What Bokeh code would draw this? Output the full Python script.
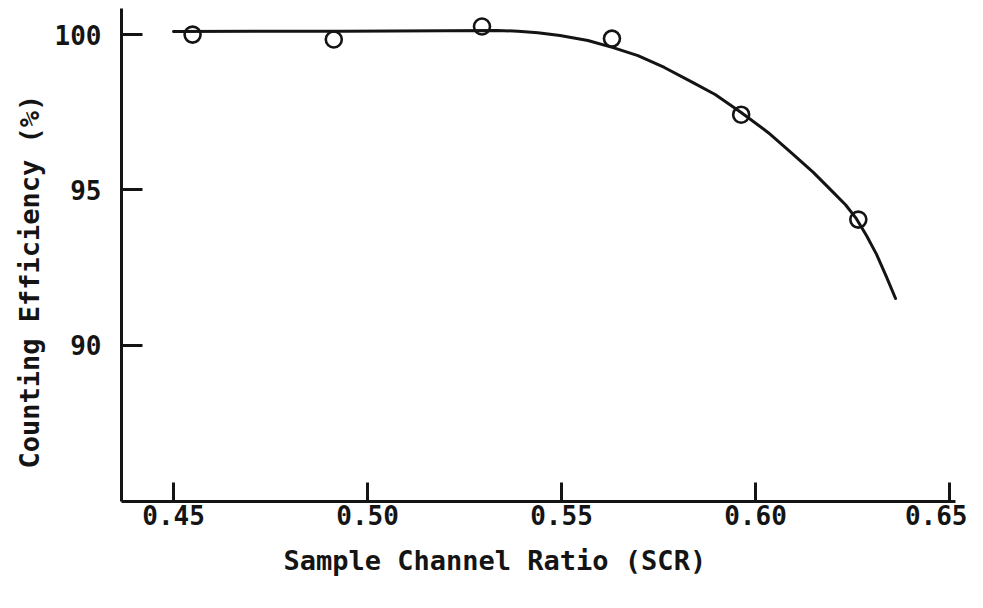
from bokeh.plotting import figure
from bokeh.models import Title, FixedTicker, Range1d
from bokeh.embed import file_html
from bokeh.resources import INLINE

# Measured points (open circles)
scr_points = [0.4549, 0.4913, 0.5295, 0.5630, 0.5963, 0.6265]
eff_points = [100.0, 99.84, 100.26, 99.87, 97.42, 94.04]

# Hand-drawn fitted curve
curve_scr = [0.4500, 0.4936, 0.5334, 0.5388, 0.5439, 0.5496, 0.5568, 0.5633,
             0.5697, 0.5765, 0.5839, 0.5896, 0.5963, 0.6033, 0.6097, 0.6149,
             0.6201, 0.6232, 0.6260, 0.6286, 0.6312, 0.6337, 0.6361]
curve_eff = [100.10, 100.11, 100.13, 100.11, 100.06, 99.97, 99.81, 99.58,
             99.32, 98.94, 98.45, 98.07, 97.49, 96.84, 96.14, 95.56,
             94.91, 94.52, 94.07, 93.53, 92.92, 92.21, 91.50]

x_ticks = [0.45, 0.50, 0.55, 0.60, 0.65]
x_tick_labels = ["0.45", "0.50", "0.55", "0.60", "0.65"]
y_ticks = [90, 95, 100]
y_tick_labels = ["90", "95", "100"]

x_title = "Sample Channel Ratio (SCR)"
y_title = "Counting Efficiency (%)"

FONT = "DejaVu Sans Mono"
INK = "#141414"

p = figure(width=967, height=592, output_backend="svg", toolbar_location=None,
           x_range=Range1d(0.43658, 0.65155), y_range=Range1d(84.96, 100.84),
           min_border_left=121, min_border_right=12, min_border_top=8,
           min_border_bottom=91)
p.outline_line_color = None
p.grid.visible = False
p.background_fill_color = "white"
p.border_fill_color = "white"

p.line(curve_scr, curve_eff, line_color=INK, line_width=3,
       line_join="round", line_cap="round")
p.scatter(scr_points, eff_points, marker="circle", size=16, fill_alpha=0,
          line_color=INK, line_width=2.6)

for ax in (p.xaxis[0], p.yaxis[0]):
    ax.axis_line_color = INK
    ax.axis_line_width = 3
    ax.major_tick_line_color = INK
    ax.major_tick_line_width = 3
    ax.major_tick_out = 0
    ax.minor_tick_line_color = None
    ax.major_label_text_font = FONT
    ax.major_label_text_font_size = "26px"
    ax.major_label_text_font_style = "bold"
    ax.major_label_text_color = INK

p.xaxis[0].ticker = FixedTicker(ticks=x_ticks)
p.xaxis[0].major_label_overrides = dict(zip(x_ticks, x_tick_labels))
p.xaxis[0].major_tick_in = 19
p.xaxis[0].major_label_standoff = 3

p.yaxis[0].ticker = FixedTicker(ticks=y_ticks)
p.yaxis[0].major_label_overrides = dict(zip(y_ticks, y_tick_labels))
p.yaxis[0].major_tick_in = 21
p.yaxis[0].major_label_standoff = 20

p.add_layout(Title(text=x_title, align="left", offset=162, standoff=31,
                   text_font=FONT, text_font_size="27px", text_font_style="bold",
                   text_color=INK), "below")
p.add_layout(Title(text=y_title, align="left", offset=33, standoff=14,
                   text_font=FONT, text_font_size="27px", text_font_style="bold",
                   text_color=INK), "left")

open("out.html", "w").write(file_html(p, INLINE))
